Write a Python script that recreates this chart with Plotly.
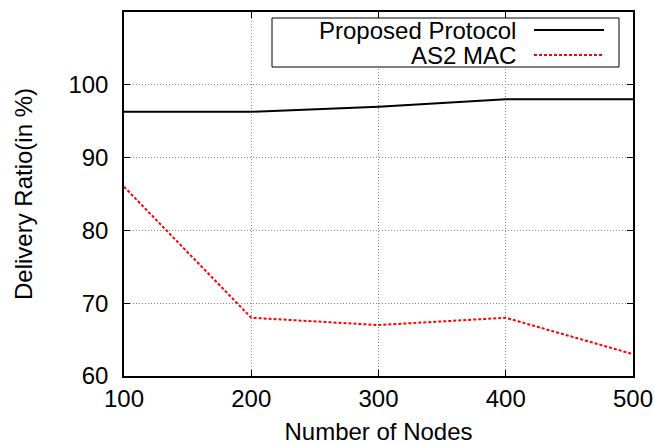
import plotly.graph_objects as go

nodes = [100, 200, 300, 400, 500]
proposed = [96.3, 96.3, 97.0, 98.0, 98.0]
as2_mac = [86.0, 68.0, 67.0, 68.0, 63.0]
series_names = ["Proposed Protocol", "AS2 MAC"]
x_ticks = [100, 200, 300, 400, 500]
y_ticks = [60, 70, 80, 90, 100]

FONT = "Liberation Sans, Arial, Helvetica, sans-serif"

fig = go.Figure()
fig.add_trace(go.Scatter(x=nodes, y=proposed, mode="lines", name=series_names[0],
                         line=dict(color="black", width=2), showlegend=False))
fig.add_trace(go.Scatter(x=nodes, y=as2_mac, mode="lines", name=series_names[1],
                         line=dict(color="#ff0000", width=2, dash="3px,2px"), showlegend=False))

axis_common = dict(showline=True, linecolor="black", linewidth=1.5, mirror="allticks",
                   ticks="inside", ticklen=6, tickcolor="black", tickwidth=1,
                   showgrid=True, gridcolor="#888888", griddash="1px,2px", gridwidth=1,
                   zeroline=False, automargin=False,
                   tickfont=dict(size=24, color="black", family=FONT))

fig.update_xaxes(range=[100, 500], tickvals=x_ticks, ticktext=[str(v) for v in x_ticks],
                 title=dict(text="Number of Nodes", font=dict(size=24, color="black", family=FONT), standoff=22),
                 ticklabelstandoff=0, **axis_common)
fig.update_yaxes(range=[60, 110], tickvals=y_ticks, ticktext=[str(v) for v in y_ticks],
                 title=dict(text="Delivery Ratio(in %)", font=dict(size=24, color="black", family=FONT), standoff=29),
                 ticklabelstandoff=9, **axis_common)

# Legend box (gnuplot style: text right-aligned, sample on right)
W, H = 654, 445
ml, mr, mt, mb = 124, 21, 12, 69
pw, ph = W - ml - mr, H - mt - mb

def px(xp):
    return (xp - ml) / pw

def py(yp):
    return 1 - (yp - mt) / ph

fig.add_shape(type="rect", xref="paper", yref="paper",
              x0=px(272), x1=px(619), y0=py(67), y1=py(18),
              line=dict(color="black", width=1), fillcolor="white", layer="above")
legend_rows = [(series_names[0], 30, dict(color="black", width=2)),
               (series_names[1], 55, dict(color="#ff0000", width=2, dash="3px,2px"))]
for name, yp, ln in legend_rows:
    fig.add_annotation(xref="paper", yref="paper", x=px(517), y=py(yp), text=name,
                       xanchor="right", yanchor="middle", showarrow=False, borderpad=0,
                       font=dict(size=24, color="black", family=FONT))
    fig.add_shape(type="line", xref="paper", yref="paper", x0=px(534), x1=px(604),
                  y0=py(yp), y1=py(yp), line=ln, layer="above")

fig.update_layout(width=W, height=H, margin=dict(l=ml, r=mr, t=mt, b=mb),
                  plot_bgcolor="white", paper_bgcolor="white",
                  font=dict(family=FONT, color="black"))

fig.write_html("out.html")
